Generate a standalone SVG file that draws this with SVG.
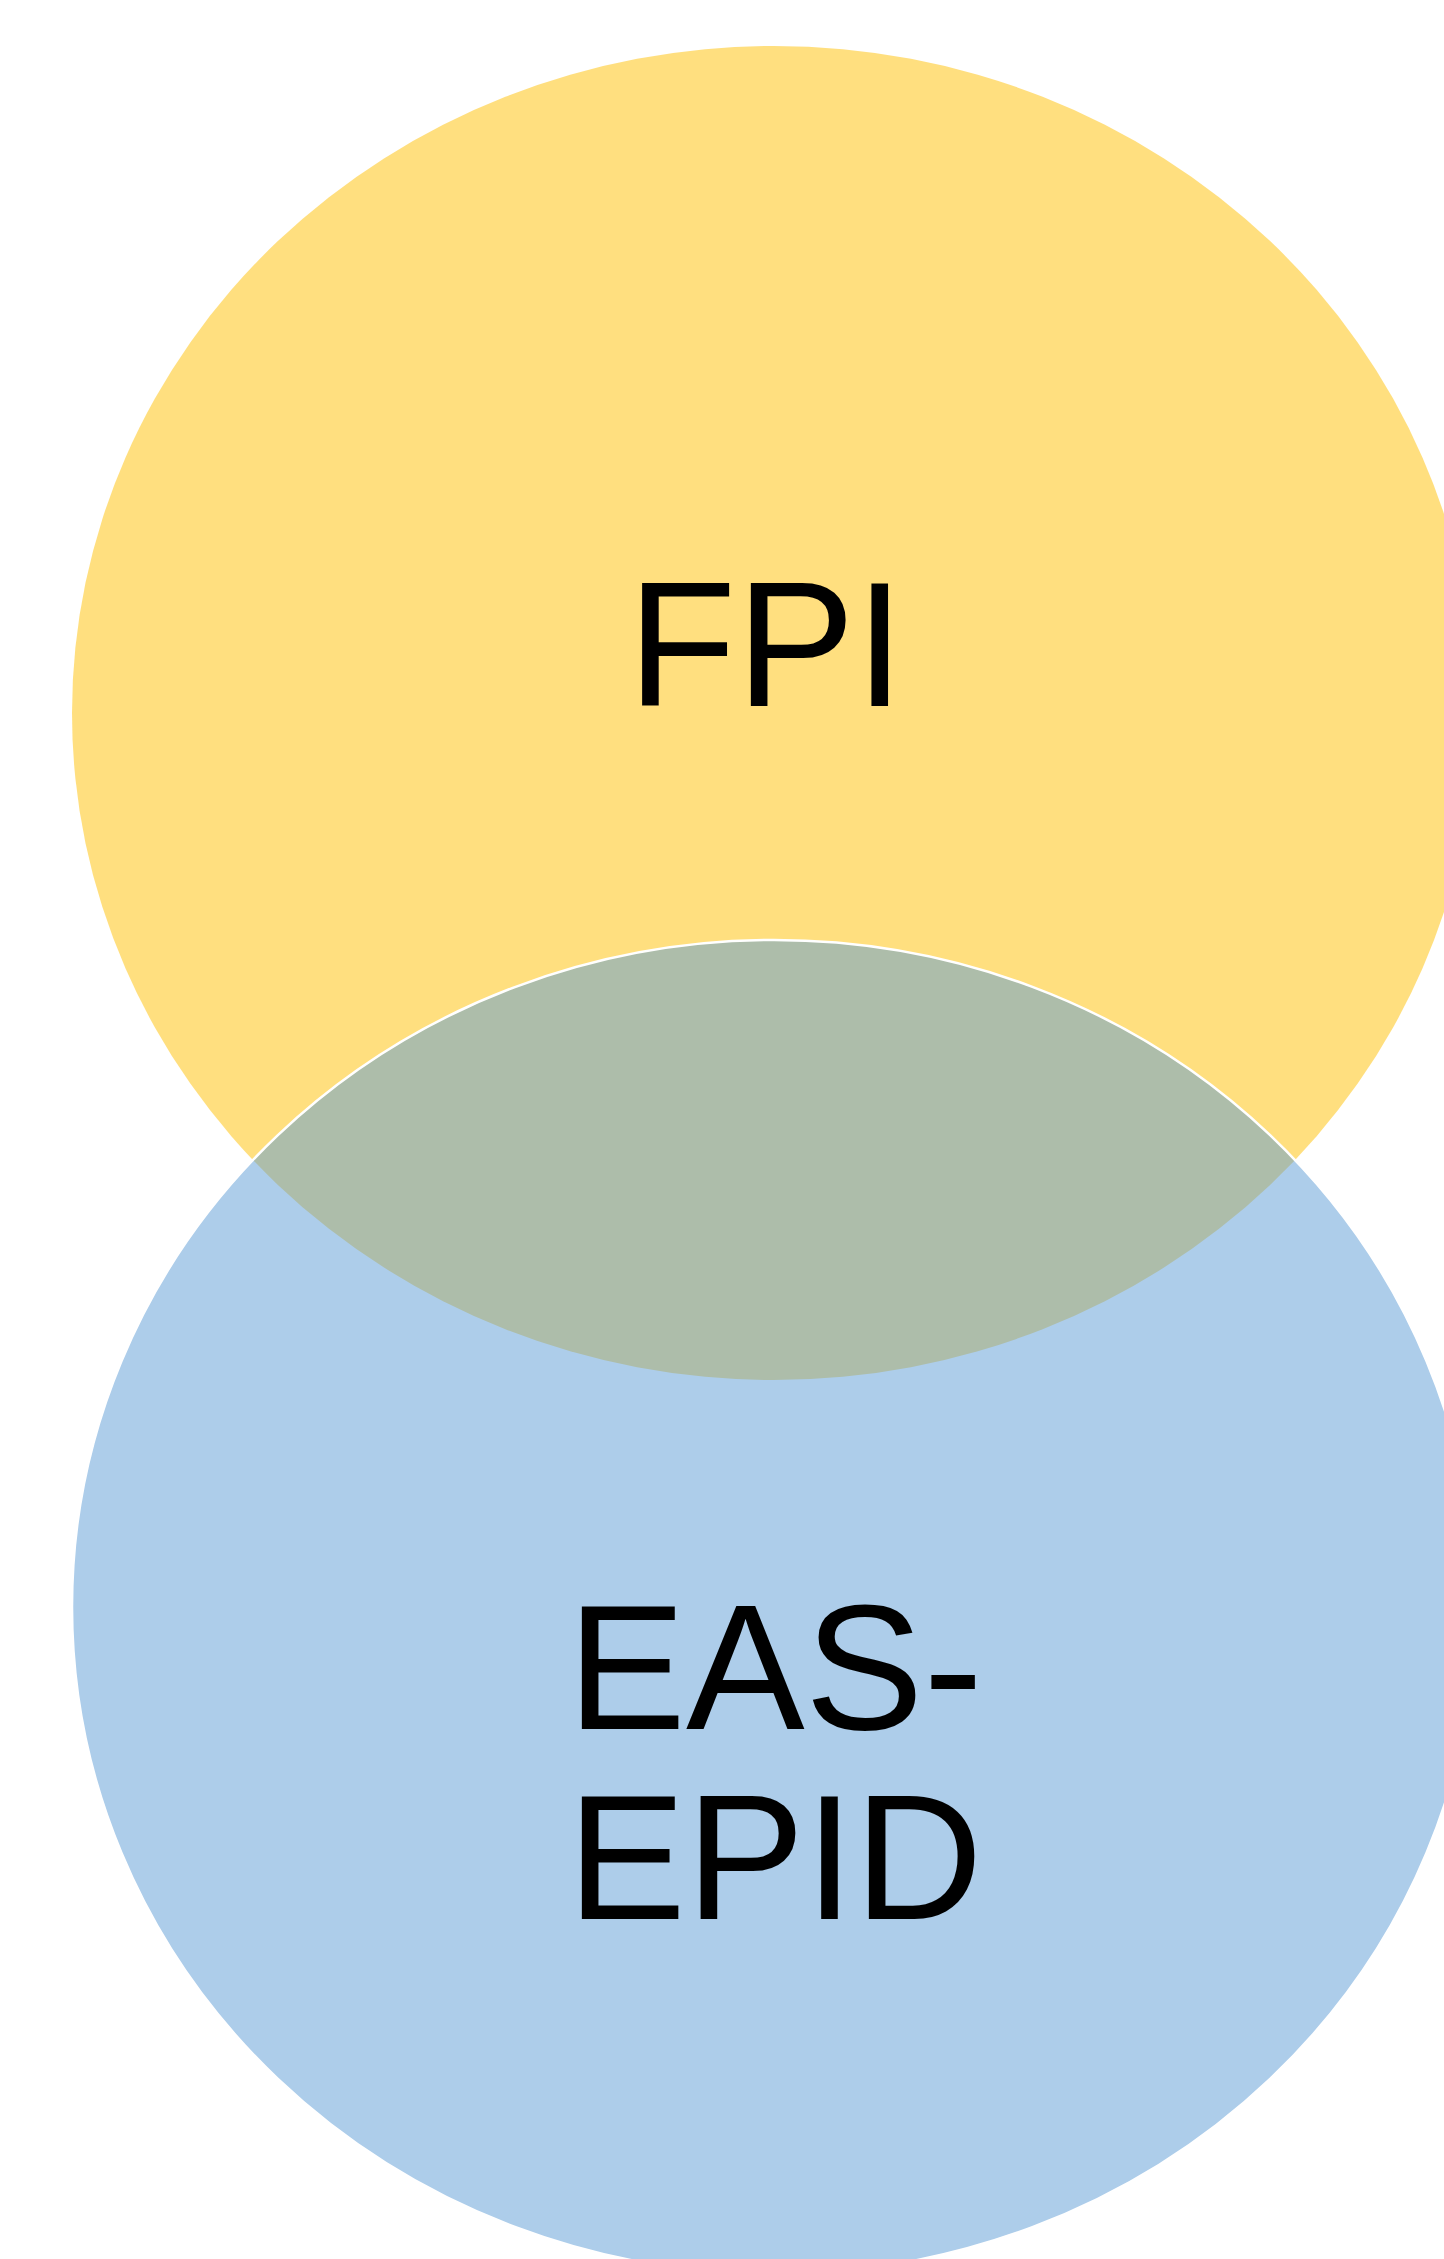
<svg xmlns="http://www.w3.org/2000/svg" width="1444" height="2259" viewBox="0 0 1444 2259">
<style>
.lbl{font-family:"Liberation Sans",Arial,sans-serif;font-size:178px;fill:#000;text-anchor:middle}
</style>
<rect width="1444" height="2259" fill="#ffffff"/>
<g id="node-fpi">
<ellipse cx="774" cy="713" rx="702" ry="667" fill="#FFC000" fill-opacity="0.5"/>
<text class="lbl" x="766" y="705.5">FPI</text>
</g>
<g id="node-eas-epid">
<ellipse cx="774" cy="1607" rx="702" ry="667" fill="#5B9BD5" fill-opacity="0.5" stroke="#ffffff" stroke-width="2.5"/>
<text class="lbl" x="775" y="1729.3">EAS-</text>
<text class="lbl" x="775" y="1919.3">EPID</text>
</g>
<g id="connectors"/>
</svg>
